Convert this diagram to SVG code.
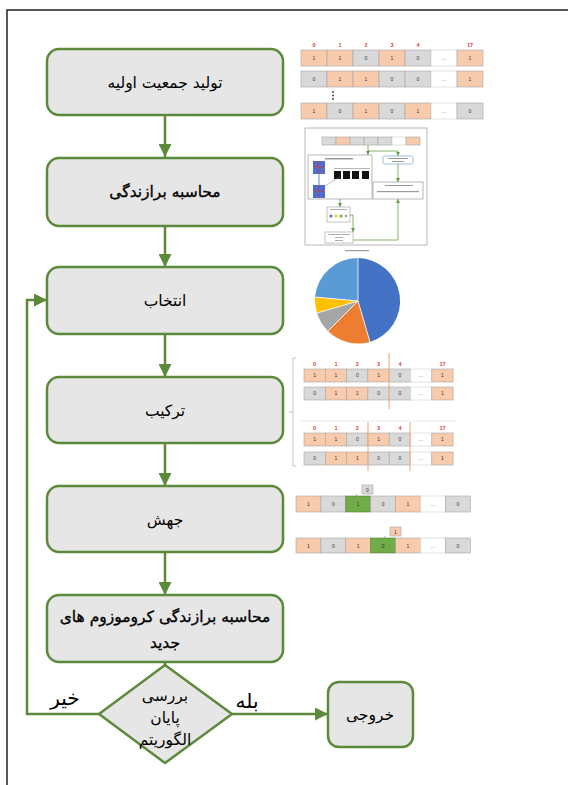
<svg xmlns="http://www.w3.org/2000/svg" width="568" height="785" viewBox="0 0 568 785">
<defs>
<style>
.box{fill:#e6e6e6;stroke:#5b8a3a;stroke-width:2.5}
.con{fill:none;stroke:#5b8a3a;stroke-width:2.5}
.t{font-family:"DejaVu Sans",sans-serif;font-size:15.5px;fill:#000;text-anchor:middle}
.tb{font-family:"DejaVu Sans",sans-serif;font-size:15.5px;fill:#000;stroke:#000;stroke-width:0.35;text-anchor:middle}
.lbl{font-family:"DejaVu Sans",sans-serif;font-size:20px;fill:#000;text-anchor:middle}
.o{fill:#f8cbad;stroke:#a6a6a6;stroke-width:0.6}
.g{fill:#d9d9d9;stroke:#a6a6a6;stroke-width:0.6}
.w{fill:#ffffff;stroke:#d0d0d0;stroke-width:0.6}
.gr{fill:#70ad47;stroke:#507e32;stroke-width:0.6}
.c{font-family:"Liberation Sans",sans-serif;font-size:5px;fill:#333;text-anchor:middle}
.h{font-family:"Liberation Sans",sans-serif;font-size:5.5px;font-weight:bold;fill:#e04040;text-anchor:middle}
.thin{fill:none;stroke:#6a9a4a;stroke-width:0.8}
.fr{fill:#fff;stroke:#999;stroke-width:0.7}
.bar{fill:#9a9a9a}
.ol{stroke:#f4b183;stroke-width:1.2}
</style>
<marker id="ah" viewBox="0 0 10 10" refX="10" refY="5" markerWidth="13" markerHeight="13" markerUnits="userSpaceOnUse" orient="auto"><path d="M0,0 L10,5 L0,10 z" fill="#5b8a3a"/></marker>
<marker id="sa" viewBox="0 0 10 10" refX="10" refY="5" markerWidth="4" markerHeight="4" markerUnits="userSpaceOnUse" orient="auto"><path d="M0,0 L10,5 L0,10 z" fill="#6a9a4a"/></marker>
</defs>
<rect x="0" y="0" width="568" height="785" fill="#fff"/>
<path d="M7,785 V10 H568" fill="none" stroke="#222" stroke-width="1.5"/>

<g id="connectors">
<line class="con" x1="165" y1="115" x2="165" y2="157" marker-end="url(#ah)"/>
<line class="con" x1="165" y1="226" x2="165" y2="267" marker-end="url(#ah)"/>
<line class="con" x1="165" y1="334" x2="165" y2="377" marker-end="url(#ah)"/>
<line class="con" x1="165" y1="443" x2="165" y2="486" marker-end="url(#ah)"/>
<line class="con" x1="165" y1="552" x2="165" y2="595" marker-end="url(#ah)"/>
<line class="con" x1="165" y1="662" x2="165" y2="665"/>
<line class="con" x1="232" y1="714" x2="328" y2="714" marker-end="url(#ah)"/>
<path class="con" d="M99,714 H27 V300 H47" marker-end="url(#ah)"/>
<text class="lbl" x="65" y="705">خیر</text>
<text class="lbl" x="247" y="708">بله</text>
</g>

<g id="n1"><rect class="box" x="47" y="49" width="236" height="66" rx="12"/><text class="t" x="165" y="88">تولید جمعیت اولیه</text></g>
<g id="n2"><rect class="box" x="47" y="158" width="236" height="68" rx="12"/><text class="tb" x="165" y="197">محاسبه برازندگی</text></g>
<g id="n3"><rect class="box" x="47" y="267" width="236" height="67" rx="12"/><text class="t" x="165" y="306">انتخاب</text></g>
<g id="n4"><rect class="box" x="47" y="377" width="236" height="66" rx="12"/><text class="t" x="165" y="416">ترکیب</text></g>
<g id="n5"><rect class="box" x="47" y="486" width="236" height="66" rx="12"/><text class="t" x="165" y="525">جهش</text></g>
<g id="n6"><rect class="box" x="47" y="595" width="236" height="67" rx="12"/><text class="tb" x="165" y="622">محاسبه برازندگی کروموزوم های</text><text class="tb" x="165" y="648">جدید</text></g>
<g id="n7"><path class="box" d="M165,665 L232,714 L165,763 L99,714 Z"/><text class="t" x="165" y="701" font-size="14.5">بررسی</text><text class="t" x="165" y="723" font-size="14.5">پایان</text><text class="t" x="165" y="745" font-size="14.5">الگوریتم</text></g>
<g id="n8"><rect class="box" x="328" y="682" width="85" height="65" rx="11"/><text class="t" x="370" y="720">خروجی</text></g>

<g id="img-population">
<g class="h"><text x="314" y="47">0</text><text x="340" y="47">1</text><text x="366" y="47">2</text><text x="392" y="47">3</text><text x="418" y="47">4</text><text x="470" y="47">17</text></g>
<rect class="o" x="301" y="50" width="26" height="16"/><rect class="o" x="327" y="50" width="26" height="16"/><rect class="g" x="353" y="50" width="26" height="16"/><rect class="o" x="379" y="50" width="26" height="16"/><rect class="g" x="405" y="50" width="26" height="16"/><rect class="w" x="431" y="50" width="26" height="16"/><rect class="o" x="457" y="50" width="26" height="16"/>
<g class="c"><text x="314" y="60">1</text><text x="340" y="60">1</text><text x="366" y="60">0</text><text x="392" y="60">1</text><text x="418" y="60">0</text><text x="444" y="60">…</text><text x="470" y="60">1</text></g>
<rect class="g" x="301" y="71" width="26" height="16"/><rect class="o" x="327" y="71" width="26" height="16"/><rect class="o" x="353" y="71" width="26" height="16"/><rect class="g" x="379" y="71" width="26" height="16"/><rect class="g" x="405" y="71" width="26" height="16"/><rect class="w" x="431" y="71" width="26" height="16"/><rect class="o" x="457" y="71" width="26" height="16"/>
<g class="c"><text x="314" y="81">0</text><text x="340" y="81">1</text><text x="366" y="81">1</text><text x="392" y="81">0</text><text x="418" y="81">0</text><text x="444" y="81">…</text><text x="470" y="81">1</text></g>
<circle cx="333" cy="92" r="0.9" fill="#333"/><circle cx="333" cy="95.5" r="0.9" fill="#333"/><circle cx="333" cy="99" r="0.9" fill="#333"/>
<rect class="o" x="301" y="103" width="26" height="16"/><rect class="g" x="327" y="103" width="26" height="16"/><rect class="o" x="353" y="103" width="26" height="16"/><rect class="g" x="379" y="103" width="26" height="16"/><rect class="o" x="405" y="103" width="26" height="16"/><rect class="w" x="431" y="103" width="26" height="16"/><rect class="g" x="457" y="103" width="26" height="16"/>
<g class="c"><text x="314" y="113">1</text><text x="340" y="113">0</text><text x="366" y="113">1</text><text x="392" y="113">0</text><text x="418" y="113">1</text><text x="444" y="113">…</text><text x="470" y="113">0</text></g>
</g>

<g id="img-fitness">
<rect class="fr" x="305" y="128" width="122" height="117"/>
<rect class="g" x="322" y="137" width="14" height="8"/><rect class="o" x="336" y="137" width="14" height="8"/><rect class="g" x="350" y="137" width="14" height="8"/><rect class="g" x="364" y="137" width="14" height="8"/><rect class="g" x="378" y="137" width="14" height="8"/><rect class="w" x="392" y="137" width="14" height="8"/><rect class="o" x="406" y="137" width="14" height="8"/>
<path class="thin" d="M368,145 V155" marker-end="url(#sa)"/>
<path class="thin" d="M368,151 H398 V156" marker-end="url(#sa)"/>
<rect x="308" y="155" width="64" height="44" fill="#fff" stroke="#888" stroke-width="0.6"/>
<rect class="bar" x="325" y="158" width="28" height="1.5"/>
<rect x="313" y="161" width="12" height="13" fill="#4a6fd0"/><path d="M313,161 L325,174 M313,167 H325 M319,161 V174" stroke="#c04060" stroke-width="0.8"/>
<rect x="313" y="185" width="12" height="13" fill="#4a6fd0"/><path d="M313,191 H325 M319,185 V198" stroke="#c04060" stroke-width="0.8"/>
<line x1="319" y1="174" x2="319" y2="185" stroke="#4a6fd0" stroke-width="0.8"/>
<rect x="334" y="168" width="36" height="0.6" fill="#888"/>
<rect x="334" y="171" width="7" height="8" fill="#111"/><rect x="343" y="171" width="7" height="8" fill="#111"/><rect x="352" y="171" width="7" height="8" fill="#111"/><rect x="362" y="171" width="7" height="8" fill="#111"/>
<line x1="325" y1="186" x2="340" y2="177" stroke="#888" stroke-width="0.5"/>
<rect x="383" y="156" width="30" height="8" rx="1.5" fill="#fff" stroke="#5b9bd5" stroke-width="0.6"/>
<rect class="bar" x="388" y="158" width="20" height="1"/><rect class="bar" x="392" y="161" width="12" height="1"/>
<path class="thin" d="M398,164 V182" marker-end="url(#sa)"/>
<rect x="373" y="182" width="50" height="17" fill="#fff" stroke="#888" stroke-width="0.6"/>
<rect class="bar" x="385" y="185" width="28" height="1"/><rect class="bar" x="377" y="191" width="42" height="1.2"/>
<path class="thin" d="M340,199 V207" marker-end="url(#sa)"/>
<rect x="327" y="207" width="23" height="15" fill="#fff" stroke="#888" stroke-width="0.5"/>
<rect class="bar" x="330" y="209" width="17" height="0.8"/>
<circle cx="331" cy="216" r="1.5" fill="#4a6fd0"/><circle cx="336" cy="216" r="1.5" fill="#ffc000"/><circle cx="341" cy="216" r="1.5" fill="#70ad47"/><circle cx="346" cy="216" r="1.2" fill="#999"/>
<path class="thin" d="M350,215 H353 V232" marker-end="url(#sa)"/>
<rect x="325" y="232" width="28" height="11" fill="#fff" stroke="#888" stroke-width="0.5"/>
<rect class="bar" x="328" y="234" width="22" height="0.8"/><rect class="bar" x="335" y="237" width="8" height="0.8"/><rect class="bar" x="335" y="240" width="8" height="0.8"/>
<path class="thin" d="M353,240 H398 V199" marker-end="url(#sa)"/>
<rect class="bar" x="345" y="250" width="24" height="1.2"/>
</g>

<g id="img-pie">
<path d="M358,301 L358,258 A43,43 0 0,1 370,342 Z" fill="#4472c4"/>
<path d="M358,301 L370,342 A43,43 0 0,1 328,331 Z" fill="#ed7d31"/>
<path d="M358,301 L328,331 A43,43 0 0,1 317,313 Z" fill="#a5a5a5"/>
<path d="M358,301 L317,313 A43,43 0 0,1 315,297 Z" fill="#ffc000"/>
<path d="M358,301 L315,297 A43,43 0 0,1 358,258 Z" fill="#5b9bd5"/>
<g stroke="#fff" stroke-width="0.8"><line x1="358" y1="301" x2="358" y2="258"/><line x1="358" y1="301" x2="370" y2="342"/><line x1="358" y1="301" x2="328" y2="331"/><line x1="358" y1="301" x2="317" y2="313"/><line x1="358" y1="301" x2="315" y2="297"/></g>
</g>

<g id="img-crossover">
<path d="M296,358 H293 V466 H296 M293,412 H289" fill="none" stroke="#b0b8c8" stroke-width="0.8"/>
<line x1="300" y1="421" x2="456" y2="421" stroke="#e6e6e6" stroke-width="0.8"/>
<g class="h"><text x="314.6" y="366">0</text><text x="336" y="366">1</text><text x="357.3" y="366">2</text><text x="378.6" y="366">3</text><text x="400" y="366">4</text><text x="442.5" y="366">17</text></g>
<rect class="o" x="304" y="369" width="21.3" height="13"/><rect class="o" x="325.3" y="369" width="21.3" height="13"/><rect class="g" x="346.6" y="369" width="21.3" height="13"/><rect class="o" x="367.9" y="369" width="21.3" height="13"/><rect class="g" x="389.2" y="369" width="21.3" height="13"/><rect class="w" x="410.5" y="369" width="21.3" height="13"/><rect class="o" x="431.8" y="369" width="21.3" height="13"/>
<g class="c"><text x="314.6" y="377">1</text><text x="336" y="377">1</text><text x="357.3" y="377">0</text><text x="378.6" y="377">1</text><text x="400" y="377">0</text><text x="421" y="377">…</text><text x="442.5" y="377">1</text></g>
<rect class="g" x="304" y="387" width="21.3" height="13"/><rect class="o" x="325.3" y="387" width="21.3" height="13"/><rect class="o" x="346.6" y="387" width="21.3" height="13"/><rect class="g" x="367.9" y="387" width="21.3" height="13"/><rect class="g" x="389.2" y="387" width="21.3" height="13"/><rect class="w" x="410.5" y="387" width="21.3" height="13"/><rect class="o" x="431.8" y="387" width="21.3" height="13"/>
<g class="c"><text x="314.6" y="395">0</text><text x="336" y="395">1</text><text x="357.3" y="395">1</text><text x="378.6" y="395">0</text><text x="400" y="395">0</text><text x="421" y="395">…</text><text x="442.5" y="395">1</text></g>
<line class="ol" x1="389" y1="353" x2="389" y2="409"/>
<g class="h"><text x="314.6" y="430">0</text><text x="336" y="430">1</text><text x="357.3" y="430">2</text><text x="378.6" y="430">3</text><text x="400" y="430">4</text><text x="442.5" y="430">17</text></g>
<rect class="o" x="304" y="433" width="21.3" height="13"/><rect class="o" x="325.3" y="433" width="21.3" height="13"/><rect class="g" x="346.6" y="433" width="21.3" height="13"/><rect class="o" x="367.9" y="433" width="21.3" height="13"/><rect class="g" x="389.2" y="433" width="21.3" height="13"/><rect class="w" x="410.5" y="433" width="21.3" height="13"/><rect class="o" x="431.8" y="433" width="21.3" height="13"/>
<g class="c"><text x="314.6" y="441">1</text><text x="336" y="441">1</text><text x="357.3" y="441">0</text><text x="378.6" y="441">1</text><text x="400" y="441">0</text><text x="421" y="441">…</text><text x="442.5" y="441">1</text></g>
<rect class="g" x="304" y="452" width="21.3" height="13"/><rect class="o" x="325.3" y="452" width="21.3" height="13"/><rect class="o" x="346.6" y="452" width="21.3" height="13"/><rect class="g" x="367.9" y="452" width="21.3" height="13"/><rect class="g" x="389.2" y="452" width="21.3" height="13"/><rect class="w" x="410.5" y="452" width="21.3" height="13"/><rect class="o" x="431.8" y="452" width="21.3" height="13"/>
<g class="c"><text x="314.6" y="460">0</text><text x="336" y="460">1</text><text x="357.3" y="460">1</text><text x="378.6" y="460">0</text><text x="400" y="460">0</text><text x="421" y="460">…</text><text x="442.5" y="460">1</text></g>
<line class="ol" x1="368" y1="422" x2="368" y2="471"/>
<line class="ol" x1="410" y1="422" x2="410" y2="471"/>
</g>

<g id="img-mutation">
<rect class="o" x="296" y="496" width="24.9" height="16"/><rect class="g" x="320.9" y="496" width="24.9" height="16"/><rect class="gr" x="345.8" y="496" width="24.9" height="16"/><rect class="g" x="370.7" y="496" width="24.9" height="16"/><rect class="o" x="395.6" y="496" width="24.9" height="16"/><rect class="w" x="420.5" y="496" width="24.9" height="16"/><rect class="g" x="445.4" y="496" width="24.9" height="16"/>
<g class="c"><text x="308.5" y="506">1</text><text x="333.4" y="506">0</text><text x="358.2" y="506">1</text><text x="383.1" y="506">0</text><text x="408" y="506">1</text><text x="433" y="506">…</text><text x="457.8" y="506">0</text></g>
<line x1="357" y1="494" x2="352" y2="505" stroke="#888" stroke-width="0.6"/>
<rect class="g" x="362" y="485" width="11" height="9"/><text class="c" x="367.5" y="491.5">0</text>
<rect class="o" x="296" y="538" width="24.9" height="15"/><rect class="g" x="320.9" y="538" width="24.9" height="15"/><rect class="o" x="345.8" y="538" width="24.9" height="15"/><rect class="gr" x="370.7" y="538" width="24.9" height="15"/><rect class="o" x="395.6" y="538" width="24.9" height="15"/><rect class="w" x="420.5" y="538" width="24.9" height="15"/><rect class="g" x="445.4" y="538" width="24.9" height="15"/>
<g class="c"><text x="308.5" y="547.5">1</text><text x="333.4" y="547.5">0</text><text x="358.2" y="547.5">1</text><text x="383.1" y="547.5">0</text><text x="408" y="547.5">1</text><text x="433" y="547.5">…</text><text x="457.8" y="547.5">0</text></g>
<line x1="385" y1="536" x2="380" y2="547" stroke="#888" stroke-width="0.6"/>
<rect class="o" x="390" y="527" width="11" height="9"/><text class="c" x="395.5" y="533.5">1</text>
</g>
</svg>
